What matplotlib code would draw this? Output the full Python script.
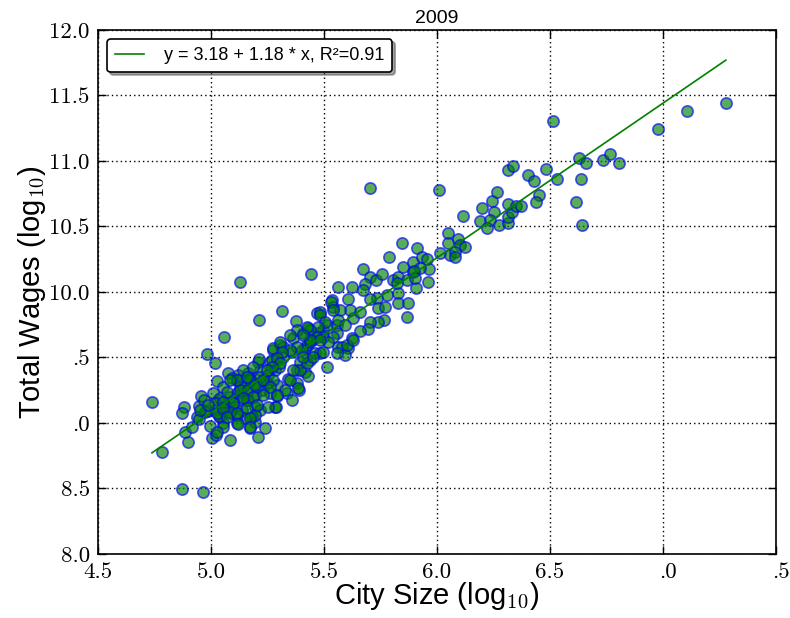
import numpy as np
import matplotlib
matplotlib.use('Agg')
import matplotlib.pyplot as plt
import matplotlib.transforms as mtrans

plt.rcParams['font.family'] = ['Liberation Sans', 'DejaVu Sans']
plt.rcParams['mathtext.fontset'] = 'cm'

# city size (log10)
city = [4.739, 4.783, 4.872, 4.965, 4.880, 4.872, 4.900, 4.885, 4.916, 4.938,
        4.947, 4.956, 4.969, 4.947, 4.982, 5.018, 5.058, 5.027, 5.075, 5.053,
        5.004, 5.022, 4.987, 4.996, 5.018, 5.031, 5.040, 5.053, 5.009, 5.040,
        5.018, 5.062, 5.035, 5.053, 5.027, 5.084, 5.097, 5.119, 5.119, 5.093,
        5.164, 5.173, 5.217, 5.208, 5.261, 5.283, 5.248, 5.226, 5.195, 5.159,
        5.142, 5.115, 5.084, 5.106, 5.137, 5.164, 5.195, 5.217, 5.181, 5.150,
        5.115, 5.173, 5.195, 5.239, 5.283, 5.261, 5.292, 5.128, 5.071, 5.212,
        5.314, 5.376, 5.212, 5.270, 5.274, 5.305, 5.319, 5.300, 5.341, 5.381,
        5.389, 5.336, 5.292, 5.288, 5.363, 5.358, 5.407, 5.429, 5.416, 5.381,
        5.416, 5.429, 5.394, 5.438, 5.460, 5.482, 5.473, 5.496, 5.513, 5.469,
        5.482, 5.535, 5.540, 5.513, 5.562, 5.558, 5.447, 5.252, 5.195, 5.142,
        5.252, 5.442, 5.562, 5.624, 5.530, 5.606, 5.673, 5.704, 5.681, 5.673,
        5.730, 5.757, 5.788, 5.845, 5.912, 5.850, 5.894, 5.894, 5.805, 5.827,
        5.867, 5.907, 5.827, 5.779, 5.735, 5.739, 5.770, 5.827, 5.872, 5.867,
        5.765, 5.739, 5.704, 5.695, 5.659, 5.624, 5.606, 5.580, 5.628, 5.615,
        5.571, 5.659, 5.540, 5.562, 5.593, 5.558, 5.540, 5.482, 5.504, 5.473,
        5.438, 5.496, 5.425, 5.593, 5.704, 6.009, 6.115, 6.049, 6.049, 6.093,
        6.102, 6.124, 6.013, 6.058, 6.080, 6.080, 6.199, 6.243, 6.265, 6.252,
        6.190, 6.234, 6.221, 6.274, 6.314, 6.314, 6.332, 6.314, 6.350, 6.372,
        6.314, 6.336, 6.403, 6.429, 6.482, 6.531, 6.451, 6.438, 5.934, 5.956,
        5.965, 5.925, 5.898, 5.903, 5.960, 5.823, 6.513, 6.978, 6.628, 6.659,
        6.735, 6.765, 6.805, 6.637, 6.615, 6.642, 7.106, 7.279, 5.704, 5.128,
        5.097, 5.053, 5.115, 5.159, 5.195, 5.084, 5.027, 4.973, 5.142, 5.186,
        5.239, 5.327, 5.358, 5.394, 5.208, 5.084, 5.274, 5.319, 5.403, 5.438,
        5.469, 5.518, 5.558, 5.602, 5.628, 5.425, 5.381, 5.350, 5.305, 4.951,
        4.987, 5.053, 5.128, 5.164, 5.204, 5.274, 5.173, 5.115, 5.217, 5.084,
        5.159, 5.195, 5.230, 5.261, 5.292, 5.230, 5.186, 5.142, 5.053, 5.071,
        5.115, 5.159, 5.204, 5.173, 5.119, 5.173, 5.350, 5.385, 5.363, 5.425,
        5.407, 5.451, 5.496, 5.482, 5.438, 5.407, 5.381, 5.350, 5.314, 5.292,
        5.305, 5.270, 5.248]

# total wages (log10)
wages = [9.160, 8.780, 8.496, 8.473, 9.120, 9.076, 8.855, 8.930, 8.970, 9.046,
         9.130, 9.206, 9.176, 9.030, 9.527, 9.458, 9.656, 9.320, 9.380, 9.275,
         8.885, 8.908, 9.090, 8.977, 9.100, 9.176, 9.046, 9.000, 9.230, 9.190,
         9.153, 9.122, 9.050, 8.970, 8.930, 9.076, 9.176, 9.330, 9.366, 9.344,
         9.380, 9.344, 9.405, 9.466, 9.466, 9.405, 9.305, 9.252, 9.214, 9.237,
         9.198, 9.229, 9.198, 9.122, 9.100, 9.176, 9.122, 9.100, 9.046, 9.038,
         9.000, 8.962, 9.008, 8.962, 9.122, 9.229, 9.290, 9.275, 9.237, 9.786,
         9.855, 9.779, 9.489, 9.480, 9.557, 9.595, 9.504, 9.427, 9.336, 9.305,
         9.252, 9.229, 9.206, 9.122, 9.649, 9.542, 9.687, 9.725, 9.573, 9.405,
         9.389, 9.359, 9.466, 9.480, 9.534, 9.534, 9.687, 9.710, 9.748, 9.840,
         9.847, 9.939, 9.885, 9.427, 9.580, 9.748, 9.634, 9.366, 9.305, 9.275,
         9.122, 10.137, 10.038, 10.038, 9.920, 9.947, 10.176, 10.115, 10.061, 10.015,
         10.092, 10.137, 10.267, 10.374, 10.336, 10.191, 10.229, 10.153, 10.092, 10.115,
         10.092, 10.031, 9.992, 9.977, 9.954, 9.878, 9.885, 9.916, 9.916, 9.809,
         9.786, 9.771, 9.771, 9.718, 9.702, 9.649, 9.573, 9.580, 9.802, 9.863,
         9.863, 9.847, 9.863, 9.786, 9.748, 9.687, 9.656, 9.824, 9.771, 9.733,
         9.710, 9.656, 9.595, 9.519, 9.947, 10.779, 10.580, 10.450, 10.374, 10.405,
         10.359, 10.344, 10.298, 10.282, 10.305, 10.267, 10.641, 10.695, 10.763, 10.611,
         10.542, 10.550, 10.489, 10.511, 10.527, 10.573, 10.611, 10.672, 10.656, 10.656,
         10.931, 10.962, 10.893, 10.847, 10.939, 10.863, 10.740, 10.687, 10.267, 10.252,
         10.176, 10.183, 10.160, 10.107, 10.076, 10.069, 11.305, 11.244, 11.023, 10.985,
         11.008, 11.053, 10.985, 10.863, 10.687, 10.511, 11.382, 11.443, 10.794, 10.076,
         9.153, 9.100, 9.061, 9.176, 9.061, 9.084, 9.076, 9.084, 9.405, 9.427,
         9.330, 9.252, 9.176, 9.405, 8.893, 8.870, 9.573, 9.580, 9.557, 9.618,
         9.656, 9.618, 9.534, 9.595, 9.634, 9.733, 9.710, 9.672, 9.618, 9.100,
         9.137, 9.160, 9.252, 9.252, 9.275, 9.330, 9.330, 9.330, 9.350, 9.328,
         9.351, 9.290, 9.328, 9.275, 9.214, 9.214, 9.198, 9.191, 9.115, 9.046,
         9.076, 9.115, 9.137, 9.038, 8.992, 8.970, 9.328, 9.267, 9.405, 9.458,
         9.504, 9.504, 9.542, 9.634, 9.634, 9.672, 9.580, 9.557, 9.542, 9.496,
         9.458, 9.427, 9.405]

# fit from the legend
a = 3.18
b = 1.18
r2 = 0.91

xticks = [4.5, 5.0, 5.5, 6.0, 6.5, 7.0, 7.5]
xlabels = ['4.5', '5.0', '5.5', '6.0', '6.5', '.0', '.5']
yticks = [8.0, 8.5, 9.0, 9.5, 10.0, 10.5, 11.0, 11.5, 12.0]
ylabels = ['8.0', '8.5', '.0', '.5', '10.0', '10.5', '11.0', '11.5', '12.0']

fig = plt.figure(figsize=(7.9, 6.18), dpi=100)
ax = fig.add_axes([0.124, 0.1036, 0.858, 0.848])

ax.scatter(city, wages, s=66, c='g', edgecolors='b', linewidths=1.2, alpha=0.65, zorder=3)
xs = np.array([min(city), max(city)])
ax.plot(xs, a + b * xs, 'g-', lw=1.2, zorder=4,
        label='y = %.2f + %.2f * x, R²=%.2f' % (a, b, r2))

ax.set_xlim(4.5, 7.5)
ax.set_ylim(8.0, 12.0)
ax.set_xticks(xticks)
ax.set_xticklabels(xlabels)
ax.set_yticks(yticks)
ax.set_yticklabels(ylabels)
ax.grid(True, color='k', linestyle=(0, (1, 2.2)), lw=1)
ax.set_axisbelow(True)
ax.tick_params(direction='in', length=6, width=1, top=True, right=True,
               labelsize=16.5, pad=6)
for sp in ax.spines.values():
    sp.set_linewidth(1.2)

for lab in ax.get_xticklabels() + ax.get_yticklabels():
    lab.set_fontfamily('cmr10')
# labels where the leading digit is missing keep the dot on the tick
for lab in ax.get_xticklabels():
    if lab.get_text().startswith('.'):
        lab.set_transform(lab.get_transform() +
                          mtrans.ScaledTranslation(0.055, 0, fig.dpi_scale_trans))

ax.set_xlabel('City Size (log$_{10}$)', fontsize=21, labelpad=-1)
ax.set_ylabel('Total Wages (log$_{10}$)', fontsize=21, labelpad=1)
ax.set_title('2009', fontsize=14, pad=5)

leg = ax.legend(loc='upper left', fancybox=True, shadow=True, fontsize=13,
                framealpha=1, edgecolor='k', handlelength=1.6, handletextpad=1.1,
                borderpad=0.45, borderaxespad=0.5)
leg.get_frame().set_linewidth(1.2)

fig.savefig('out.png', dpi=100)
